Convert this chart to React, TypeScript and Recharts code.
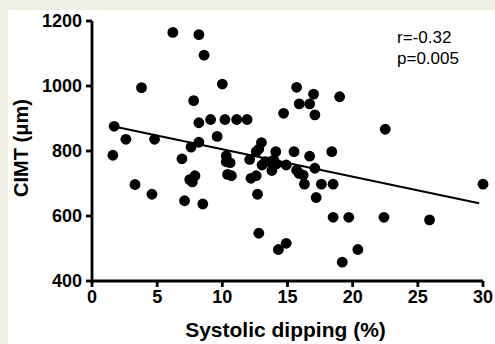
import { ScatterChart, Scatter, XAxis, YAxis, ReferenceLine } from 'recharts';

// systolic dipping (%) and CIMT (µm) per subject
const dipping = [
  1.6, 1.7, 2.6, 3.3, 3.8, 4.6, 4.8, 6.2, 6.9, 7.1,
  7.5, 7.7, 7.9, 7.6, 7.8, 8.2, 8.2, 8.2, 8.5, 8.6,
  9.1, 9.6, 10.0, 10.2, 10.3, 10.6, 10.3, 10.4, 10.7, 11.1,
  11.9, 12.1, 12.2, 12.6, 12.6, 12.8, 13.0, 12.7, 12.8, 13.05,
  13.3, 13.7, 13.95, 14.15, 13.8, 14.1, 14.3, 14.9, 14.7, 14.9,
  15.5, 15.7, 15.9, 16.7, 17.0, 17.1, 15.7, 15.9, 16.2, 16.3,
  16.7, 17.1, 17.2, 17.6, 18.5, 18.4, 19.0, 18.5, 19.7, 19.2,
  20.4, 22.4, 22.5, 25.9, 30.0,
];
const cimt = [
  787, 876, 836, 697, 995, 667, 836, 1165, 776, 647,
  712, 705, 724, 812, 955, 1158, 887, 827, 637, 1095,
  897, 845, 1006, 897, 785, 764, 767, 728, 724, 897,
  897, 774, 716, 724, 798, 806, 826, 667, 547, 757,
  767, 767, 772, 760, 740, 798, 497, 516, 916, 757,
  798, 996, 945, 945, 975, 911, 741, 731, 726, 698,
  784, 747, 657, 698, 698, 798, 967, 596, 596, 458,
  497, 596, 867, 588, 698,
];

// fitted regression line endpoints
const fitX = [1.6, 29.7];
const fitY = [876, 639];

const xTicks = [0, 5, 10, 15, 20, 25, 30];
const yTicks = [400, 600, 800, 1000, 1200];

const points = dipping.map((x, i) => ({ x, y: cimt[i] }));

const FONT = '"Liberation Sans", Arial, Helvetica, sans-serif';
const tickStyle = { fontSize: 18, fontWeight: 700, fill: '#000', fontFamily: FONT };

const Dot = (props: any) => <circle cx={props.cx} cy={props.cy} r={5.4} fill="#000" />;

export default function App() {
  return (
    <div style={{ position: 'absolute', left: 0, top: 0, width: 495, height: 344, background: '#efefe4', overflow: 'hidden' }}>
      <div style={{ position: 'absolute', left: 8, top: 10, width: 487, height: 334, background: '#fff' }} />
      <div style={{ position: 'absolute', left: 0, top: 0 }}>
        <ScatterChart width={495} height={344} margin={{ top: 21, right: 12, bottom: 0, left: 0 }}>
          <XAxis
            type="number"
            dataKey="x"
            domain={[0, 30]}
            ticks={xTicks}
            height={63}
            tick={tickStyle}
            tickSize={6}
            tickMargin={3}
            axisLine={{ stroke: '#000', strokeWidth: 2.8 }}
            tickLine={{ stroke: '#000', strokeWidth: 2.8 }}
            label={{
              content: ({ viewBox }: any) => (
                <text
                  x={viewBox.x + viewBox.width / 2 - 2}
                  y={viewBox.y + 56}
                  textAnchor="middle"
                  fontFamily={FONT}
                  fontWeight={700}
                  fontSize={21}
                  fill="#000"
                >
                  Systolic dipping (%)
                </text>
              ),
            }}
          />
          <YAxis
            type="number"
            dataKey="y"
            domain={[400, 1200]}
            ticks={yTicks}
            width={92}
            tick={tickStyle}
            tickSize={6}
            tickMargin={4}
            axisLine={{ stroke: '#000', strokeWidth: 2.8 }}
            tickLine={{ stroke: '#000', strokeWidth: 2.8 }}
            label={{
              content: ({ viewBox }: any) => {
                const cx = viewBox.x + 28;
                const cy = viewBox.y + viewBox.height / 2 - 3;
                return (
                  <text
                    x={cx}
                    y={cy}
                    transform={`rotate(-90 ${cx} ${cy})`}
                    textAnchor="middle"
                    fontFamily={FONT}
                    fontWeight={700}
                    fontSize={20}
                    fill="#000"
                  >
                    CIMT (μm)
                  </text>
                );
              },
            }}
          />
          <ReferenceLine
            segment={[
              { x: fitX[0], y: fitY[0] },
              { x: fitX[1], y: fitY[1] },
            ]}
            stroke="#000"
            strokeWidth={2}
          />
          <Scatter data={points} shape={Dot} isAnimationActive={false} />
        </ScatterChart>
      </div>
      <div style={{ position: 'absolute', left: 397, top: 27, fontFamily: FONT, fontSize: 17, lineHeight: '21px', color: '#000' }}>
        <div>r=-0.32</div>
        <div>p=0.005</div>
      </div>
    </div>
  );
}
